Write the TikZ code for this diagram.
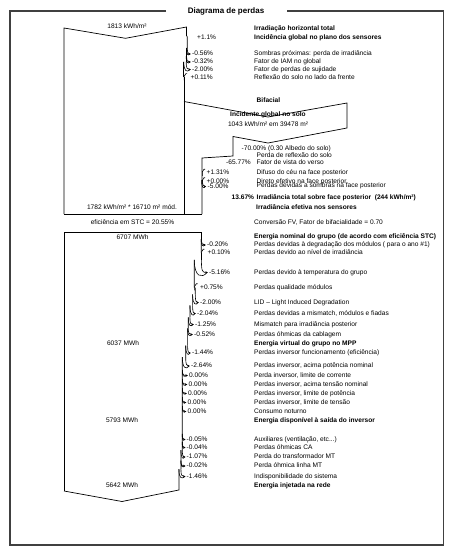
\documentclass[tikz,border=0pt]{standalone}
\usepackage{fontspec}
\setmainfont{Liberation Sans}
\usetikzlibrary{arrows.meta}
\newcommand\fs{\fontsize{6.6}{7.5}\selectfont}
\newcommand\lossA[4]{%
 \draw[hk] ({#1},{#2-5.5-#3}) .. controls ({#1},{#2-1}) and ({#1+1},{#2}) .. ({#4},{#2});
 \draw[hk0] ({#1-#3},{#2-5.5-#3}) .. controls ({#1-#3},{#2+0.6*#3+1.2}) and ({#1+1},{#2+0.6*#3+1.2}) .. ({#4-1.2},{#2+0.4});}
\newcommand\gainA[2]{%
 \draw[hk0] ({#1+3.2},{#2-3.8}) -- ({#1+2},{#2-3.8}) .. controls ({#1+0.2},{#2-2.8}) and ({#1},{#2}) .. ({#1+0.4},{#2+2.8});}
\begin{document}
\begin{tikzpicture}[x=1pt,y=-1pt,
 lbl/.style={font=\fs,anchor=west,inner sep=0pt,text height=4.8pt,text depth=1.3pt},
 blbl/.style={lbl,font=\fs\bfseries},
 val/.style={font=\fs,inner sep=0pt,text height=4.8pt,text depth=1.3pt},
 band/.style={line width=0.7pt,line join=miter},
 hk/.style={line width=0.6pt,-{Stealth[length=2.3pt,width=2.5pt]}},
 hk0/.style={line width=0.6pt},
 frame/.style={line width=1.2pt,draw=black!75}]
\fill[white] (0,0) rectangle (455,559);
\useasboundingbox (0,0) rectangle (455,559);
% frame and title
\node[font=\fontsize{8}{9}\selectfont\bfseries,inner sep=0pt] (title) at (226,11) {Diagrama de perdas};
\draw[frame] (166,11) -- (10,11) -- (10,545) -- (443.5,545) -- (443.5,11) -- (287,11);
% upper band
\draw[band] (64,214) -- (64,28) -- (125.5,38.3) -- (186.5,27) -- (186.5,35.5) -- (187.3,37) -- (187.3,47.8);
\draw[band] (186.6,47.8) -- (186.6,56.1) (186.2,56.1) -- (186.2,61.6) (183.8,61.6) -- (183.8,77.5) (184,77.5) -- (184,214);
\draw[band] (64,214) -- (202,214);
\lossA{187.3}{54}{0.7}{190.8}
\lossA{186.6}{62}{0.4}{190.8}
\lossA{186.2}{69.5}{2.4}{190.8}
\gainA{183.8}{77.5}
% bifacial
\draw[band] (184,101.5) -- (268,117) -- (347,103) -- (347,128) -- (268,143) -- (233,136.5) -- (233,156) -- (202,158) -- (202,214);
\gainA{202}{173}
\gainA{202}{181.5}
\lossA{202.5}{186.5}{0.9}{206.2}
% lower band
\draw[band] (64,491) -- (64,232) -- (201.5,232) -- (201.5,239.2);
\draw[band] (201.2,239.2) -- (201.2,253) (201.4,253) -- (201.4,259.9)
 (194.3,259.9) -- (194.3,287.5) (195.3,287.5) -- (195.3,294.3)
 (192.6,294.3) -- (192.6,305.3) (189.9,305.3) -- (189.9,317.4)
 (188.3,317.4) -- (188.3,328.3) (187.6,328.3) -- (187.6,345.6)
 (185.7,345.6) -- (185.7,357.1) (182.3,357.1) -- (182.3,450.1)
 (180.9,450.1) -- (180.9,469) (178.9,469) -- (178.9,490) -- (122,501.5) -- (64,491);
\lossA{201.5}{245}{0.3}{205.8}
\gainA{201.2}{253}
\lossA{201.4}{272.5}{7.1}{207.8}
\gainA{194.3}{287.5}
\lossA{195.3}{302.5}{2.7}{198.8}
\lossA{192.6}{313.5}{2.7}{195.8}
\lossA{189.9}{324.5}{1.6}{193.8}
\lossA{188.3}{334.5}{0.7}{192.8}
\lossA{187.6}{353}{1.9}{190.8}
\lossA{185.7}{366}{3.4}{189.8}
\lossA{182.3}{375.5}{0}{187.8}
\lossA{182.3}{384.5}{0}{187.3}
\lossA{182.3}{393.5}{0}{186.8}
\lossA{182.3}{402.5}{0}{186.3}
\lossA{182.3}{411.5}{0}{186.3}
\lossA{182.3}{439.5}{0.1}{185.5}
\lossA{182.3}{447.5}{0.1}{185.5}
\lossA{182.3}{457}{1.4}{185.5}
\lossA{180.9}{466}{0}{185.5}
\lossA{180.9}{476.5}{2}{185.5}
% values in bands
\node[val] (v1) at (127,26.5) {1813 kWh/m²};
\node[val] (v2) at (132,208) {1782 kWh/m² * 16710 m² mód.};
\node[val] (v3) at (132.5,223) {eficiência em STC = 20.55\%};
\node[val] (v4) at (132.5,237.5) {6707 MWh};
\node[val] (v5) at (123,343.5) {6037 MWh};
\node[val] (v6) at (122,421) {5793 MWh};
\node[val] (v7) at (122,486) {5642 MWh};
% percentages
\node[lbl] (p1) at (197,37.5) {+1.1\%};
\node[lbl] (p2) at (192,54) {-0.56\%};
\node[lbl] (p3) at (192,62) {-0.32\%};
\node[lbl] (p4) at (192,69.5) {-2.00\%};
\node[lbl] (p5) at (190.5,77.5) {+0.11\%};
\node[lbl] (p6) at (241.5,148.5) {-70.00\% (0.30 Albedo do solo)};
\node[lbl,anchor=east] (p7) at (251,163) {-65.77\%};
\node[lbl] (p8) at (206.5,173) {+1.31\%};
\node[lbl] (p9) at (206.5,181.5) {+0.00\%};
\node[lbl] (p10) at (207.5,186.5) {-5.00\%};
\node[blbl] (p11) at (231.5,197.5) {13.67\%};
\node[lbl] (p12) at (207,245) {-0.20\%};
\node[lbl] (p13) at (207.5,253) {+0.10\%};
\node[lbl] (p14) at (209,272.5) {-5.16\%};
\node[lbl] (p15) at (200,287.5) {+0.75\%};
\node[lbl] (p16) at (200,302.5) {-2.00\%};
\node[lbl] (p17) at (197,313.5) {-2.04\%};
\node[lbl] (p18) at (195,324.5) {-1.25\%};
\node[lbl] (p19) at (194,334.5) {-0.52\%};
\node[lbl] (p20) at (192,353) {-1.44\%};
\node[lbl] (p21) at (191,366) {-2.64\%};
\node[lbl] (p22) at (189,375.5) {0.00\%};
\node[lbl] (p23) at (188.5,384.5) {0.00\%};
\node[lbl] (p24) at (188,393.5) {0.00\%};
\node[lbl] (p25) at (187.5,402.5) {0.00\%};
\node[lbl] (p26) at (187.5,411.5) {0.00\%};
\node[lbl] (p27) at (186.5,439.5) {-0.05\%};
\node[lbl] (p28) at (186.5,447.5) {-0.04\%};
\node[lbl] (p29) at (186.5,457) {-1.07\%};
\node[lbl] (p30) at (186.5,466) {-0.02\%};
\node[lbl] (p31) at (186.5,476.5) {-1.46\%};
% descriptions
\node[blbl] (d1) at (254,29) {Irradiação horizontal total};
\node[blbl] (d2) at (254,37.5) {Incidência global no plano dos sensores};
\node[lbl] (d3) at (254,54) {Sombras próximas: perda de irradiância};
\node[lbl] (d4) at (254,62) {Fator de IAM no global};
\node[lbl] (d5) at (254,69.5) {Fator de perdas de sujidade};
\node[lbl] (d6) at (254,77.5) {Reflexão do solo no lado da frente};
\node[blbl] (d7) at (256.5,100.5) {Bifacial};
\node[val,font=\fs\bfseries] (d8) at (268,115) {Incidente global no solo};
\node[val] (d9) at (268,124.5) {1043 kWh/m² em 39478 m²};
\node[lbl] (d10) at (256.5,155.5) {Perda de reflexão do solo};
\node[lbl] (d11) at (256.5,163) {Fator de vista do verso};
\node[lbl] (d12) at (256.5,173) {Difuso do céu na face posterior};
\node[lbl] (d13) at (256.5,181.5) {Direto efetivo na face posterior};
\node[lbl] (d14) at (256.5,186) {Perdas devidas a sombras na face posterior};
\node[blbl] (d15) at (256.5,197.5) {Irradiância total sobre face posterior\ \ (244 kWh/m²)};
\node[blbl] (d16) at (256,208) {Irradiância efetiva nos sensores};
\node[lbl] (d17) at (254,223) {Conversão FV, Fator de bifacialidade = 0.70};
\node[blbl] (d18) at (254,237) {Energia nominal do grupo (de acordo com eficiência STC)};
\node[lbl] (d19) at (254,245) {Perdas devidas à degradação dos módulos ( para o ano \#1)};
\node[lbl] (d20) at (254,253) {Perdas devido ao nível de irradiância};
\node[lbl] (d21) at (254,272.5) {Perdas devido à temperatura do grupo};
\node[lbl] (d22) at (254,287.5) {Perdas qualidade módulos};
\node[lbl] (d23) at (254,302.5) {LID – Light Induced Degradation};
\node[lbl] (d24) at (254,313.5) {Perdas devidas a mismatch, módulos e fiadas};
\node[lbl] (d25) at (254,324.5) {Mismatch para irradiância posterior};
\node[lbl] (d26) at (254,334.5) {Perdas óhmicas da cablagem};
\node[blbl] (d27) at (254,343.5) {Energia virtual do grupo no MPP};
\node[lbl] (d28) at (254,353) {Perdas inversor funcionamento (eficiência)};
\node[lbl] (d29) at (254,366) {Perdas inversor, acima potência nominal};
\node[lbl] (d30) at (254,375.5) {Perda inversor, limite de corrente};
\node[lbl] (d31) at (254,384.5) {Perdas inversor, acima tensão nominal};
\node[lbl] (d32) at (254,393.5) {Perdas inversor, limite de potência};
\node[lbl] (d33) at (254,402.5) {Perdas inversor, limite de tensão};
\node[lbl] (d34) at (254,411.5) {Consumo noturno};
\node[blbl] (d35) at (254,421) {Energia disponível à saída do inversor};
\node[lbl] (d36) at (254,439.5) {Auxiliares (ventilação, etc...)};
\node[lbl] (d37) at (254,447.5) {Perdas óhmicas CA};
\node[lbl] (d38) at (254,457) {Perda do transformador MT};
\node[lbl] (d39) at (254,466) {Perda óhmica linha MT};
\node[lbl] (d40) at (254,476.5) {Indisponibilidade do sistema};
\node[blbl] (d41) at (254,486) {Energia injetada na rede};
\end{tikzpicture}
\end{document}
